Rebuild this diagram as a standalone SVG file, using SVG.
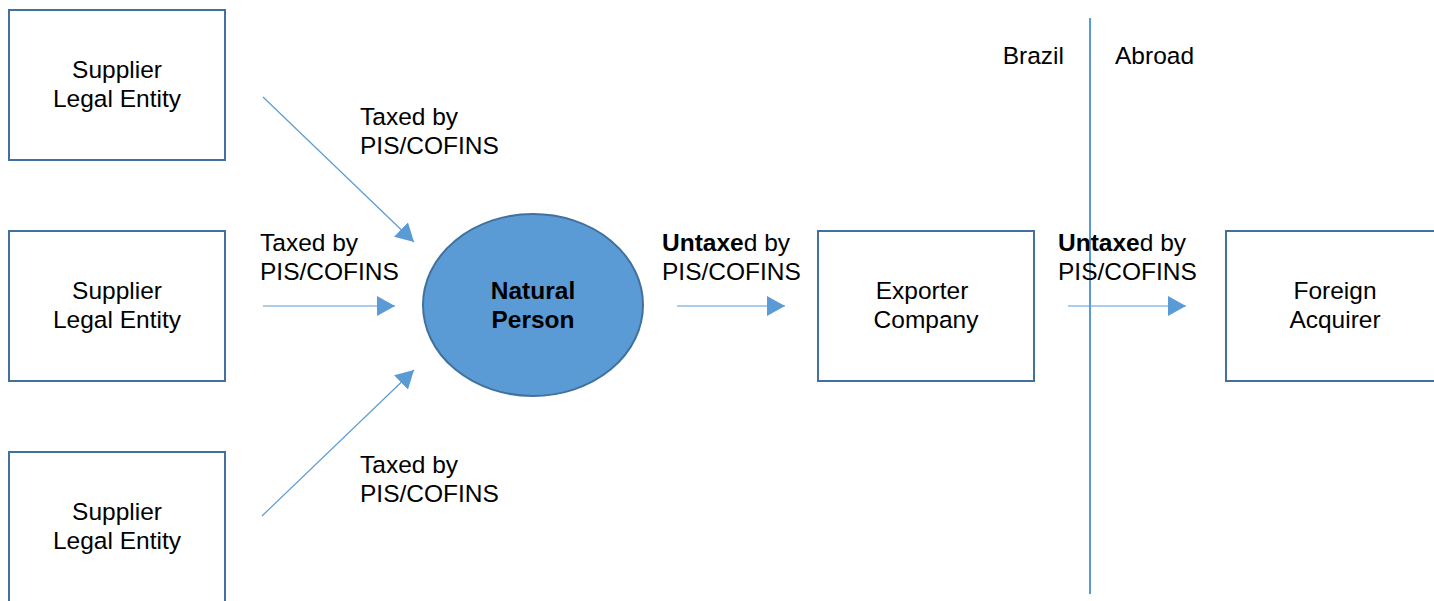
<svg xmlns="http://www.w3.org/2000/svg" width="1434" height="601" viewBox="0 0 1434 601">
<style>
text{font-family:"Liberation Sans",Arial,Helvetica,sans-serif;font-size:24.5px;fill:#000}
.box{fill:#fff;stroke:#41719c;stroke-width:2}
.c{text-anchor:middle}
.b{font-weight:bold}
.conn{stroke:#5b9bd5;stroke-width:1.2;fill:none}
</style>
<defs>
<marker id="ah" markerUnits="userSpaceOnUse" markerWidth="18" markerHeight="20" refX="18" refY="10" orient="auto" viewBox="0 0 18 20">
<path d="M0,0 L18,10 L0,20 z" fill="#5b9bd5"/>
</marker>
</defs>
<rect width="1434" height="601" fill="#fff"/>
<g id="supplier1"><rect class="box" x="9" y="10" width="216" height="150"/><text class="c" x="117" y="78">Supplier</text><text class="c" x="117" y="107">Legal Entity</text></g>
<g id="supplier2"><rect class="box" x="9" y="231" width="216" height="150"/><text class="c" x="117" y="299">Supplier</text><text class="c" x="117" y="328">Legal Entity</text></g>
<g id="supplier3"><rect class="box" x="9" y="452" width="216" height="150"/><text class="c" x="117" y="520">Supplier</text><text class="c" x="117" y="549">Legal Entity</text></g>
<g id="natural-person"><ellipse cx="533" cy="305" rx="110" ry="91" fill="#5b9bd5" stroke="#41719c" stroke-width="2"/><text class="c b" x="533" y="299">Natural</text><text class="c b" x="533" y="328">Person</text></g>
<g id="exporter"><rect class="box" x="818" y="231" width="216" height="150"/><text class="c" x="922" y="299">Exporter</text><text class="c" x="926" y="328">Company</text></g>
<g id="foreign"><rect class="box" x="1226" y="231" width="216" height="150"/><text class="c" x="1335" y="299">Foreign</text><text class="c" x="1335" y="328">Acquirer</text></g>
<g id="border"><line x1="1090" y1="18" x2="1090" y2="594" stroke="#5b9bd5" stroke-width="2"/><text x="1064" y="64" text-anchor="end">Brazil</text><text x="1115" y="64">Abroad</text></g>
<g id="connectors">
<line class="conn" x1="263" y1="97" x2="414" y2="242" marker-end="url(#ah)"/>
<line class="conn" x1="263" y1="306" x2="395" y2="306" marker-end="url(#ah)"/>
<line class="conn" x1="262" y1="516" x2="414" y2="370" marker-end="url(#ah)"/>
<line class="conn" x1="677" y1="306" x2="785" y2="306" marker-end="url(#ah)"/>
<line class="conn" x1="1068" y1="306" x2="1186" y2="306" marker-end="url(#ah)"/>
</g>
<g id="labels">
<text x="360" y="125">Taxed by</text><text x="360" y="154">PIS/COFINS</text>
<text x="260" y="251">Taxed by</text><text x="260" y="280">PIS/COFINS</text>
<text x="360" y="473">Taxed by</text><text x="360" y="502">PIS/COFINS</text>
<text x="662" y="251"><tspan class="b">Untaxe</tspan>d by</text><text x="662" y="280">PIS/COFINS</text>
<text x="1058" y="251"><tspan class="b">Untaxe</tspan>d by</text><text x="1058" y="280">PIS/COFINS</text>
</g>
</svg>
